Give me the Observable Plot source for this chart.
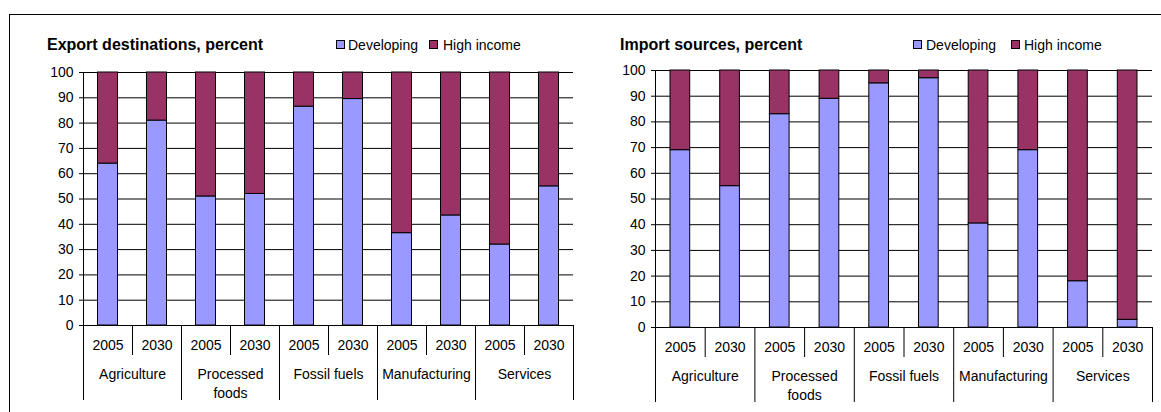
<!DOCTYPE html>
<html>
<head>
<meta charset="utf-8">
<script src="https://cdn.jsdelivr.net/npm/d3@7"></script>
<script src="https://cdn.jsdelivr.net/npm/@observablehq/plot@0.6"></script>
<style>
  body { margin: 0; background: #fff; }
  #root { position: relative; width: 1161px; height: 412px; overflow: hidden; background: #fff;
          font-family: "Liberation Sans", Arial, sans-serif; color: #000; }
  .border { position: absolute; left: 9px; top: 14px; right: -2px; bottom: -2px;
            border-left: 1px solid #000; border-top: 1px solid #000; }
  .title { position: absolute; font-weight: bold; font-size: 16px; line-height: 18px; white-space: nowrap; }
  .leg { position: absolute; font-size: 14px; line-height: 16px; white-space: nowrap; }
  .sw { position: absolute; width: 7px; height: 7px; border: 1px solid #000; }
  svg.chart { position: absolute; top: 0; }
</style>
</head>
<body>
<div id="root">
  <div class="border"></div>
</div>
<script>
// ---- data ----
const categories = ["Agriculture", "Processed foods", "Fossil fuels", "Manufacturing", "Services"];
const years = ["2005", "2030"];
const seriesNames = ["Developing", "High income"];
const seriesColors = ["#9999FF", "#993366"];
const yTicks = [0, 10, 20, 30, 40, 50, 60, 70, 80, 90, 100];
// share going to / coming from developing countries (percent), order: category x year
const exportDeveloping = [64, 81, 51, 52, 86.5, 89.5, 36.5, 43.5, 32, 55];
const importDeveloping = [69, 55, 83, 89, 95, 97, 40.5, 69, 18, 3];
const titles = ["Export destinations, percent", "Import sources, percent"];

function rows(dev) {
  return dev.map((v, i) => ({
    i,
    category: categories[Math.floor(i / years.length)],
    year: years[i % years.length],
    dev: v,
    high: 100 - v
  }));
}

function chart(dev, o) {
  const data = rows(dev);
  const n = categories.length * years.length;
  const cats = categories.map((c, k) => ({c, k}));
  const yearDiv = data.filter(d => d.i % years.length !== 0).map(d => d.i);
  const catDiv = categories.map((c, k) => k * years.length).concat([n]);
  const x1 = d => d.i, x2 = d => d.i + 1;
  const svg = Plot.plot({
    width: o.width,
    height: 412,
    marginLeft: o.ml,
    marginRight: o.mr,
    marginTop: o.mt,
    marginBottom: o.mb,
    style: {fontFamily: "'Liberation Sans', Arial, sans-serif", fontSize: "14px", background: "transparent", color: "#000", overflow: "visible"},
    x: {domain: [0, n], axis: null},
    y: {domain: [0, 100], axis: null},
    marks: [
      Plot.ruleY(yTicks, {stroke: "#000", strokeWidth: 1}),
      Plot.rectY(data, {x1, x2, y1: 0, y2: "dev", insetLeft: o.inset, insetRight: o.inset, fill: seriesColors[0], stroke: "#000", strokeWidth: 1}),
      Plot.rectY(data, {x1, x2, y1: "dev", y2: 100, insetLeft: o.inset, insetRight: o.inset, fill: seriesColors[1], stroke: "#000", strokeWidth: 1}),
      Plot.ruleX([0], {stroke: "#000"}),
      Plot.axisY(yTicks, {tickSize: 4, tickPadding: 6, label: null, fontSize: 14}),
      Plot.ruleX(yearDiv, {x: d => d, y1: 0, y2: 0, insetBottom: -30, stroke: "#000"}),
      Plot.ruleX(catDiv, {x: d => d, y1: 0, y2: 0, insetBottom: -75, stroke: "#000"}),
      Plot.text(data, {x: d => d.i + 0.5, y: 0, text: "year", dy: 20, fontSize: 14, fill: "#000"}),
      Plot.text(cats, {x: d => d.k * years.length + years.length / 2, y: 0, text: "c", dy: 40,
        lineAnchor: "top", lineWidth: 7, lineHeight: 1.35, fontSize: 14, fill: "#000"})
    ]
  });
  svg.classList.add("chart");
  svg.style.left = o.left + "px";
  return svg;
}

const root = document.getElementById("root");
const layouts = [
  {left: 0, width: 580, ml: 83, mr: 7, mt: 72, mb: 87, inset: 14.5,
   title: 47, leg: [336, 348, 429, 443]},
  {left: 580, width: 581, ml: 75, mr: 9, mt: 70, mb: 85, inset: 15,
   title: 620, leg: [913, 926, 1011, 1024]}
];
[exportDeveloping, importDeveloping].forEach((dev, j) => {
  const o = layouts[j];
  root.appendChild(chart(dev, o));
  const t = document.createElement("div");
  t.className = "title";
  t.textContent = titles[j];
  t.style.left = o.title + "px";
  t.style.top = "36px";
  root.appendChild(t);
  seriesNames.forEach((s, k) => {
    const sw = document.createElement("div");
    sw.className = "sw";
    sw.style.background = seriesColors[k];
    sw.style.left = o.leg[k * 2] + "px";
    sw.style.top = "40px";
    root.appendChild(sw);
    const l = document.createElement("div");
    l.className = "leg";
    l.textContent = s;
    l.style.left = o.leg[k * 2 + 1] + "px";
    l.style.top = "37px";
    root.appendChild(l);
  });
});
</script>
</body>
</html>
